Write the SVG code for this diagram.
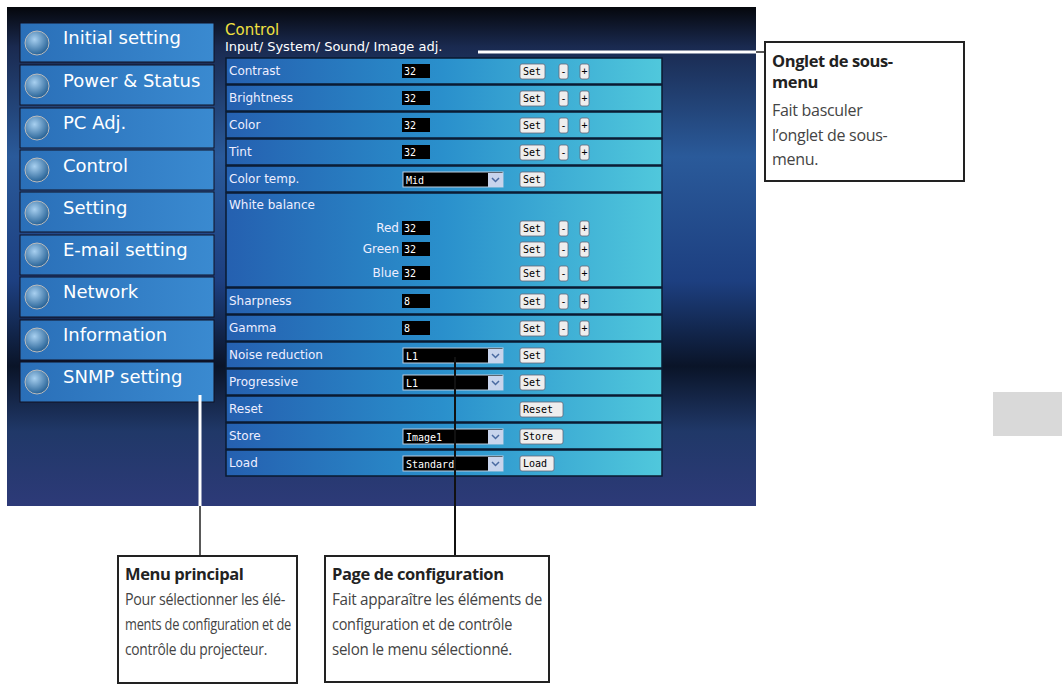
<svg xmlns="http://www.w3.org/2000/svg" width="1062" height="687" viewBox="0 0 1062 687">
<defs>
<linearGradient id="bg" x1="0" y1="0" x2="0" y2="1">
<stop offset="0" stop-color="#05070c"/><stop offset="0.08" stop-color="#1a2a50"/><stop offset="0.3" stop-color="#2a5a9a"/><stop offset="0.55" stop-color="#1d3f80"/><stop offset="0.72" stop-color="#0a1428"/><stop offset="0.85" stop-color="#203868"/><stop offset="1" stop-color="#2d3a78"/>
</linearGradient>
<linearGradient id="menu" x1="0" y1="0" x2="1" y2="0">
<stop offset="0" stop-color="#2a6fb8"/><stop offset="1" stop-color="#3a8ad0"/>
</linearGradient>
<linearGradient id="row" x1="0" y1="0" x2="1" y2="0">
<stop offset="0" stop-color="#2560b0"/><stop offset="0.5" stop-color="#2a90cc"/><stop offset="1" stop-color="#50c8dc"/>
</linearGradient>
<radialGradient id="ic" cx="0.4" cy="0.35" r="0.7"><stop offset="0" stop-color="#a8d0f0"/><stop offset="1" stop-color="#1d5a90"/></radialGradient>
</defs>
<style>
.mt{font-family:"DejaVu Sans",sans-serif;font-size:18px;fill:#fff}
.rt{font-family:"DejaVu Sans",sans-serif;font-size:12px;fill:#eef}
.vt{font-family:"DejaVu Sans Mono",monospace;font-size:10px;fill:#fff}
.bt{font-family:"DejaVu Sans Mono",monospace;font-size:10px;fill:#000}
.val{fill:#000}
.btn{fill:#eee;stroke:#667;stroke-width:0.8}
.box{fill:#fff;stroke:#222;stroke-width:2}
.h{font-family:"Open Sans",sans-serif;font-weight:bold;font-size:16.5px;fill:#222;letter-spacing:-0.4px}
.p{font-family:"Open Sans",sans-serif;font-size:16px;fill:#444;letter-spacing:-0.3px}
.ln{stroke:#222;stroke-width:1.5;fill:none}
.chev{fill:none;stroke:#4a6aa0;stroke-width:1.5}
</style>
<rect width="1062" height="687" fill="#fff"/>
<rect x="7" y="7" width="749" height="499" fill="url(#bg)"/>
<rect x="993" y="392" width="69" height="44" fill="#d9d9d9"/>
<g id="menu-main">
<g id="m1"><rect x="20" y="23" width="194" height="39" fill="url(#menu)" stroke="#112" /><circle cx="37" cy="43" r="12" fill="url(#ic)" stroke="#bbb"/><text class="mt" x="63" y="44">Initial setting</text></g>
<g id="m2"><rect x="20" y="65" width="194" height="40" fill="url(#menu)" stroke="#112"/><circle cx="37" cy="86" r="12" fill="url(#ic)" stroke="#bbb"/><text class="mt" x="63" y="87">Power &amp; Status</text></g>
<g id="m3"><rect x="20" y="108" width="194" height="40" fill="url(#menu)" stroke="#112"/><circle cx="37" cy="128" r="12" fill="url(#ic)" stroke="#bbb"/><text class="mt" x="63" y="129">PC Adj.</text></g>
<g id="m4"><rect x="20" y="150" width="194" height="40" fill="url(#menu)" stroke="#112"/><circle cx="37" cy="170" r="12" fill="url(#ic)" stroke="#bbb"/><text class="mt" x="63" y="172">Control</text></g>
<g id="m5"><rect x="20" y="192" width="194" height="40" fill="url(#menu)" stroke="#112"/><circle cx="37" cy="213" r="12" fill="url(#ic)" stroke="#bbb"/><text class="mt" x="63" y="214">Setting</text></g>
<g id="m6"><rect x="20" y="235" width="194" height="40" fill="url(#menu)" stroke="#112"/><circle cx="37" cy="255" r="12" fill="url(#ic)" stroke="#bbb"/><text class="mt" x="63" y="256">E-mail setting</text></g>
<g id="m7"><rect x="20" y="277" width="194" height="40" fill="url(#menu)" stroke="#112"/><circle cx="37" cy="297" r="12" fill="url(#ic)" stroke="#bbb"/><text class="mt" x="63" y="298">Network</text></g>
<g id="m8"><rect x="20" y="320" width="194" height="40" fill="url(#menu)" stroke="#112"/><circle cx="37" cy="340" r="12" fill="url(#ic)" stroke="#bbb"/><text class="mt" x="63" y="341">Information</text></g>
<g id="m9"><rect x="20" y="362" width="194" height="40" fill="url(#menu)" stroke="#112"/><circle cx="37" cy="382" r="12" fill="url(#ic)" stroke="#bbb"/><text class="mt" x="63" y="383">SNMP setting</text></g>
</g>
<g id="page">
<text x="225" y="35" font-family="DejaVu Sans,sans-serif" font-size="15" fill="#f0e040">Control</text>
<text x="225" y="51" font-family="DejaVu Sans,sans-serif" font-size="13" fill="#fff">Input/ System/ Sound/ Image adj.</text>
<g fill="url(#row)" stroke="#0a1a30" stroke-width="1.5">
<rect x="226" y="58" width="436" height="26"/><rect x="226" y="85" width="436" height="26"/><rect x="226" y="112" width="436" height="26"/><rect x="226" y="139" width="436" height="26"/><rect x="226" y="166" width="436" height="26"/><rect x="226" y="193" width="436" height="94"/><rect x="226" y="288" width="436" height="26"/><rect x="226" y="315" width="436" height="26"/><rect x="226" y="342" width="436" height="26"/><rect x="226" y="369" width="436" height="26"/><rect x="226" y="396" width="436" height="26"/><rect x="226" y="423" width="436" height="26"/><rect x="226" y="450" width="436" height="26"/>
</g>
<g class="rt">
<text x="229" y="75">Contrast</text><text x="229" y="102">Brightness</text><text x="229" y="129">Color</text><text x="229" y="156">Tint</text><text x="229" y="183">Color temp.</text><text x="229" y="209">White balance</text>
<text x="399" y="232" text-anchor="end">Red</text><text x="399" y="253" text-anchor="end">Green</text><text x="399" y="277" text-anchor="end">Blue</text>
<text x="229" y="305">Sharpness</text><text x="229" y="332">Gamma</text><text x="229" y="359">Noise reduction</text><text x="229" y="386">Progressive</text><text x="229" y="413">Reset</text><text x="229" y="440">Store</text><text x="229" y="467">Load</text>
</g>
<g class="val">
<rect x="402" y="64" width="28" height="14"/><rect x="402" y="91" width="28" height="14"/><rect x="402" y="118" width="28" height="14"/><rect x="402" y="145" width="28" height="14"/>
<rect x="402" y="221" width="28" height="14"/><rect x="402" y="242" width="28" height="14"/><rect x="402" y="266" width="28" height="14"/>
<rect x="402" y="294" width="28" height="14"/><rect x="402" y="321" width="28" height="14"/>
</g>
<g stroke="#bcd" stroke-width="1">
<rect x="403" y="172" width="100" height="15" fill="#000"/><rect x="403" y="348" width="100" height="15" fill="#000"/><rect x="403" y="375" width="100" height="15" fill="#000"/><rect x="403" y="429" width="100" height="15" fill="#000"/><rect x="403" y="456" width="100" height="15" fill="#000"/>
</g>
<g fill="#c8d4ec"><rect x="488" y="173" width="15" height="14"/><rect x="488" y="349" width="15" height="14"/><rect x="488" y="376" width="15" height="14"/><rect x="488" y="430" width="15" height="14"/><rect x="488" y="457" width="15" height="14"/></g>
<g class="chev"><path d="M492,178 l3.5,3.5 l3.5,-3.5"/><path d="M492,354 l3.5,3.5 l3.5,-3.5"/><path d="M492,381 l3.5,3.5 l3.5,-3.5"/><path d="M492,435 l3.5,3.5 l3.5,-3.5"/><path d="M492,462 l3.5,3.5 l3.5,-3.5"/></g>
<g class="vt">
<text x="404" y="75">32</text><text x="404" y="102">32</text><text x="404" y="129">32</text><text x="404" y="156">32</text><text x="406" y="184">Mid</text>
<text x="404" y="232">32</text><text x="404" y="253">32</text><text x="404" y="277">32</text><text x="404" y="305">8</text><text x="404" y="332">8</text>
<text x="406" y="360">L1</text><text x="406" y="387">L1</text><text x="406" y="441">Image1</text><text x="406" y="468">Standard</text>
</g>
<g id="buttons">
<g class="btn">
<rect x="520" y="64" width="25" height="15" rx="2"/><rect x="520" y="91" width="25" height="15" rx="2"/><rect x="520" y="118" width="25" height="15" rx="2"/><rect x="520" y="145" width="25" height="15" rx="2"/><rect x="520" y="172" width="25" height="15" rx="2"/>
<rect x="520" y="221" width="25" height="15" rx="2"/><rect x="520" y="242" width="25" height="15" rx="2"/><rect x="520" y="266" width="25" height="15" rx="2"/><rect x="520" y="294" width="25" height="15" rx="2"/><rect x="520" y="321" width="25" height="15" rx="2"/><rect x="520" y="348" width="25" height="15" rx="2"/><rect x="520" y="375" width="25" height="15" rx="2"/>
<rect x="520" y="402" width="43" height="15" rx="2"/><rect x="520" y="429" width="43" height="15" rx="2"/><rect x="520" y="456" width="34" height="15" rx="2"/>
<rect x="559" y="64" width="9" height="15" rx="2"/><rect x="559" y="91" width="9" height="15" rx="2"/><rect x="559" y="118" width="9" height="15" rx="2"/><rect x="559" y="145" width="9" height="15" rx="2"/><rect x="559" y="221" width="9" height="15" rx="2"/><rect x="559" y="242" width="9" height="15" rx="2"/><rect x="559" y="266" width="9" height="15" rx="2"/><rect x="559" y="294" width="9" height="15" rx="2"/><rect x="559" y="321" width="9" height="15" rx="2"/>
<rect x="580" y="64" width="9" height="15" rx="2"/><rect x="580" y="91" width="9" height="15" rx="2"/><rect x="580" y="118" width="9" height="15" rx="2"/><rect x="580" y="145" width="9" height="15" rx="2"/><rect x="580" y="221" width="9" height="15" rx="2"/><rect x="580" y="242" width="9" height="15" rx="2"/><rect x="580" y="266" width="9" height="15" rx="2"/><rect x="580" y="294" width="9" height="15" rx="2"/><rect x="580" y="321" width="9" height="15" rx="2"/>
</g>
<g class="bt">
<text x="523" y="75">Set</text><text x="523" y="102">Set</text><text x="523" y="129">Set</text><text x="523" y="156">Set</text><text x="523" y="183">Set</text><text x="523" y="232">Set</text><text x="523" y="253">Set</text><text x="523" y="277">Set</text><text x="523" y="305">Set</text><text x="523" y="332">Set</text><text x="523" y="359">Set</text><text x="523" y="386">Set</text>
<text x="523" y="413">Reset</text><text x="523" y="440">Store</text><text x="523" y="467">Load</text>
</g>
<g class="bt" text-anchor="middle">
<text x="563.5" y="75">-</text><text x="563.5" y="102">-</text><text x="563.5" y="129">-</text><text x="563.5" y="156">-</text><text x="563.5" y="232">-</text><text x="563.5" y="253">-</text><text x="563.5" y="277">-</text><text x="563.5" y="305">-</text><text x="563.5" y="332">-</text>
<text x="584.5" y="75">+</text><text x="584.5" y="102">+</text><text x="584.5" y="129">+</text><text x="584.5" y="156">+</text><text x="584.5" y="232">+</text><text x="584.5" y="253">+</text><text x="584.5" y="277">+</text><text x="584.5" y="305">+</text><text x="584.5" y="332">+</text>
</g>
</g>
</g>
<g id="connectors">
<line x1="478" y1="52" x2="756" y2="52" stroke="#fff" stroke-width="3"/>
<line class="ln" x1="756" y1="52" x2="765" y2="52"/>
<line x1="200" y1="395" x2="200" y2="506" stroke="#fff" stroke-width="3"/>
<line class="ln" x1="200" y1="506" x2="200" y2="556"/>
<line x1="455" y1="357" x2="455" y2="556" stroke="#111" stroke-width="2"/>
</g>
<g id="callout-onglet"><rect class="box" x="765" y="42" width="199" height="139"/>
<text class="h" x="772" y="67">Onglet de sous-</text><text class="h" x="772" y="88">menu</text>
<text class="p" x="772" y="116">Fait basculer</text><text class="p" x="772" y="141">l’onglet de sous-</text><text class="p" x="772" y="165">menu.</text></g>
<g id="callout-menu"><rect class="box" x="118" y="556" width="179" height="127"/>
<text class="h" x="125" y="580">Menu principal</text>
<text class="p" x="125" y="605" textLength="160" lengthAdjust="spacingAndGlyphs">Pour sélectionner les élé-</text><text class="p" x="125" y="630" textLength="166" lengthAdjust="spacingAndGlyphs">ments de configuration et de</text><text class="p" x="125" y="655" textLength="142" lengthAdjust="spacingAndGlyphs">contrôle du projecteur.</text></g>
<g id="callout-page"><rect class="box" x="325" y="556" width="224" height="126"/>
<text class="h" x="332" y="580">Page de configuration</text>
<text class="p" x="332" y="605" textLength="210" lengthAdjust="spacingAndGlyphs">Fait apparaître les éléments de</text><text class="p" x="332" y="630" textLength="180" lengthAdjust="spacingAndGlyphs">configuration et de contrôle</text><text class="p" x="332" y="655" textLength="180" lengthAdjust="spacingAndGlyphs">selon le menu sélectionné.</text></g>
</svg>
